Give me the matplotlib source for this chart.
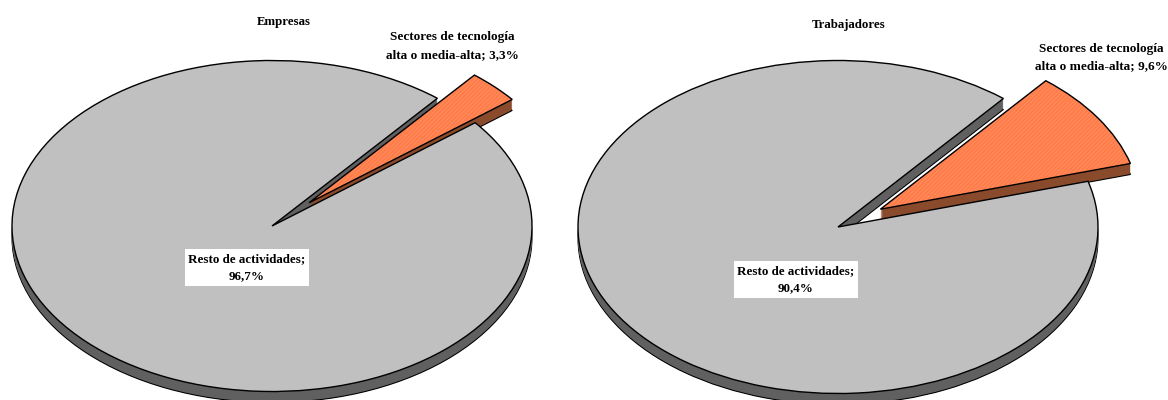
import matplotlib
matplotlib.use("Agg")
import matplotlib.pyplot as plt

plt.rcParams['font.family'] = ['Liberation Serif', 'DejaVu Sans']
plt.rcParams['hatch.linewidth'] = 0.5

W, H = 1168, 400
titles = ["Empresas", "Trabajadores"]
sector_label = "Sectores de tecnología\nalta o media-alta; "
rest_label = "Resto de actividades;\n"
sector_values = [3.3, 9.6]
rest_values = [96.7, 90.4]

GREY = "#c0c0c0"
GREY_DARK = "#606060"
ORANGE = "#ff7c4a"
ORANGE_LIGHT = "#ff9466"
BROWN = "#8a4a2c"
DEPTH = 11


def fmt(v):
    return f"{v:.1f}%".replace(".", ",")


def draw_pie(ax, small, big, explode, cx, cy, ry, x0):
    # radius 1 on the x axis = 260px, y axis is squashed so the pie looks tilted
    rx = 260.0
    pie_args = dict(explode=[explode, 0], startangle=50.5, counterclock=False, radius=1)
    # side walls, brown goes under the grey top face
    for i in range(DEPTH, 0, -1):
        wedges, _ = ax.pie([small, big], center=(0, -i / ry), colors=[BROWN, GREY_DARK], **pie_args)
        wedges[0].set_zorder(15 - i * 0.1)
        wedges[1].set_zorder(10 - i * 0.1)
        for w in wedges:
            if i == DEPTH:
                w.set_edgecolor("black")
                w.set_linewidth(0.8)
            else:
                w.set_linewidth(0)
    # top faces
    wedges, _ = ax.pie([small, big], colors=[ORANGE, GREY], **pie_args)
    wedges[0].set_zorder(30)
    wedges[0].set_hatch("////////")
    wedges[0].set_edgecolor(ORANGE_LIGHT)
    wedges[0].set_linewidth(0)
    wedges[1].set_zorder(20)
    wedges[1].set_edgecolor("black")
    wedges[1].set_linewidth(1.0)
    # outline of the slice on top of the hatch
    outline, _ = ax.pie([small, big], colors=["none", "none"], **pie_args)
    outline[0].set_zorder(31)
    outline[0].set_edgecolor("black")
    outline[0].set_linewidth(1.0)
    outline[1].set_visible(False)
    ax.set_aspect("auto")
    ax.set_xlim((x0 - cx) / rx, (x0 + W / 2 - cx) / rx)
    ax.set_ylim((cy - H) / ry, cy / ry)


fig = plt.figure(figsize=(W / 100, H / 100), dpi=100, facecolor="white")
ax1 = fig.add_axes([0, 0, 0.5, 1])
ax2 = fig.add_axes([0.5, 0, 0.5, 1])
draw_pie(ax1, sector_values[0], rest_values[0], 0.2, 272, 226, 165.5, 0)
draw_pie(ax2, sector_values[1], rest_values[1], 0.195, 838, 227, 166.5, W / 2)


def label(x, y, s, size, box=False):
    kw = dict(facecolor="white", edgecolor="none", pad=2.5) if box else None
    fig.text(x / W, 1 - y / H, s, ha="center", va="center", fontsize=size,
             fontweight="bold", linespacing=1.6, bbox=kw, zorder=50)


label(284, 22, titles[0], 9.3)
label(849, 25, titles[1], 9.3)
label(452, 46, sector_label + fmt(sector_values[0]), 9.5)
label(1101, 57.5, sector_label + fmt(sector_values[1]), 9.5)
label(247, 267.5, rest_label + fmt(rest_values[0]), 9.4, box=True)
label(796, 279.5, rest_label + fmt(rest_values[1]), 9.4, box=True)

fig.savefig("out.png", dpi=100)
